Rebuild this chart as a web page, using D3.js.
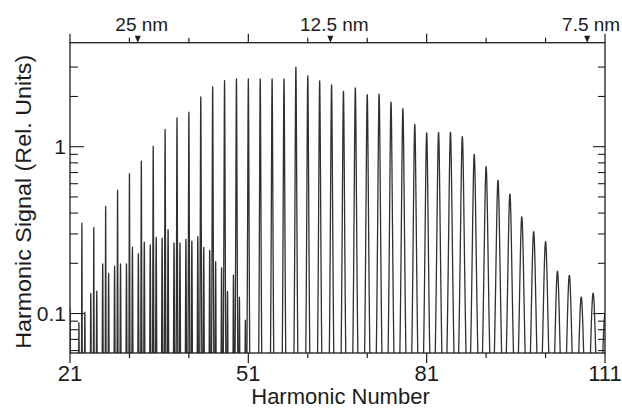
<!DOCTYPE html>
<html>
<head>
<meta charset="utf-8">
<script src="https://cdn.jsdelivr.net/npm/d3@7"></script>
<style>
  body { margin: 0; background: #fff; }
  svg text { font-family: "Liberation Sans", Arial, Helvetica, sans-serif; fill: #1c1c1c; }
</style>
</head>
<body>
<div id="chart"></div>
<script>
'use strict'

////////////////////////////////////
/////////////// data ///////////////
////////////////////////////////////

// first order: odd harmonics and their peak signal (rel. units)
const harmonics = [21, 23, 25, 27, 29, 31, 33, 35, 37, 39, 41, 43, 45, 47, 49,
    51, 53, 55, 57, 59, 61, 63, 65, 67, 69, 71, 73, 75, 77, 79,
    81, 83, 85, 87, 89, 91, 93, 95, 97, 99, 101, 103, 105, 107, 109, 111]
const peakSignal = [0.10, 0.34, 0.32, 0.43, 0.54, 0.68, 0.81, 1.0, 1.26, 1.48, 1.6, 1.98, 2.27, 2.48, 2.54,
    2.54, 2.54, 2.54, 2.54, 2.99, 2.65, 2.47, 2.34, 2.14, 2.24, 2.04, 2.06, 1.84, 1.68, 1.35,
    1.2, 1.21, 1.21, 1.14, 0.89, 0.75, 0.62, 0.51, 0.37, 0.30, 0.26, 0.17, 0.16, 0.116, 0.123, 0.09]

// second diffraction order of harmonics 45..101, seen at half their number
const secondOrderPos = [22.5, 23.5, 24.5, 25.5, 26.5, 27.5, 28.5, 29.5, 30.5, 31.5, 32.5, 33.5,
    34.5, 35.5, 36.5, 37.5, 38.5, 39.5, 40.5, 41.5, 42.5, 43.5, 44.5, 45.5, 46.5, 47.5,
    48.5, 49.5, 50.5]
const secondOrderSignal = [0.08, 0.094, 0.124, 0.128, 0.19, 0.166, 0.184, 0.19, 0.19, 0.242, 0.22, 0.26,
    0.25, 0.278, 0.275, 0.31, 0.257, 0.257, 0.27, 0.263, 0.28, 0.24, 0.23, 0.195, 0.178, 0.126,
    0.16, 0.115, 0.08]

// axes
const xDomain = [21, 111]
const xMajor = [21, 51, 81, 111]
const xMinor = [31, 41, 61, 71, 91, 101]
const yDomain = [0.058, 4.2]
const yMajor = [0.1, 1]
const yMajorLabels = ['0.1', '1']
const yMinor = [0.06, 0.07, 0.08, 0.09, 0.2, 0.3, 0.4, 0.5, 0.6, 0.7, 0.8, 0.9, 2, 3]

// top axis: wavelength of the n-th harmonic of the drive laser
const laserNm = 810
const wavelengths = [25, 12.5, 7.5]
const wavelengthLabels = ['25 nm', '12.5 nm', '7.5 nm']

////////////////////////////////////
//////////// svg setup /////////////
////////////////////////////////////

const svgWidth = 622, svgHeight = 409
const margin = { left: 70, right: 17, top: 42.7, bottom: 56 }
const width = svgWidth - margin.left - margin.right
const height = svgHeight - margin.top - margin.bottom

const svg = d3.select('#chart')
    .append('svg')
    .attr('width', svgWidth)
    .attr('height', svgHeight)
    .append('g')
    .attr('transform', `translate(${margin.left},${margin.top})`)

const x = d3.scaleLinear().domain(xDomain).range([0, width])
const y = d3.scaleLog().domain(yDomain).range([height, 0])

svg.append('clipPath').attr('id', 'plot-clip')
    .append('rect').attr('width', width).attr('height', height)

////////////////////////////////////
///////////// spectrum /////////////
////////////////////////////////////

// lines get wider towards high harmonics (spectrometer resolution)
const lineWidth = p => 0.04 + 0.09 * Math.pow(p / 60, 3)

var lines = harmonics.map((h, i) => ({ pos: h, amp: peakSignal[i], w: lineWidth(h) }))
    .concat(secondOrderPos.map((p, i) => ({ pos: p, amp: secondOrderSignal[i], w: 0.08 })))

function signal(h) {
    var s = 0.008
    lines.forEach(l => {
        var d = (h - l.pos) / l.w, q = 1 + d * d
        s += l.amp / (q * q)
    })
    return s
}

var samples = d3.range(xDomain[0], xDomain[1] + 0.001, 0.01)
    .concat(lines.map(l => l.pos))
    .sort((a, b) => a - b)

const spectrum = samples.map(h => ({ h: h, v: signal(h) }))

svg.append('path')
    .datum(spectrum)
    .attr('clip-path', 'url(#plot-clip)')
    .attr('fill', 'none')
    .attr('stroke', '#303030')
    .attr('stroke-width', 1.3)
    .attr('stroke-linejoin', 'round')
    .attr('d', d3.line().x(d => x(d.h)).y(d => y(Math.max(d.v, 0.03))))

////////////////////////////////////
/////////////// axes ///////////////
////////////////////////////////////

const ink = '#1c1c1c'

// frame
svg.append('rect')
    .attr('width', width).attr('height', height)
    .attr('fill', 'none').attr('stroke', ink).attr('stroke-width', 1.3)

function vTicks(vals, y0, len) {
    svg.selectAll(null).data(vals).join('line')
        .attr('x1', d => x(d)).attr('x2', d => x(d))
        .attr('y1', y0).attr('y2', y0 + len)
        .attr('stroke', ink).attr('stroke-width', 1.2)
}
function hTicks(vals, x0, len) {
    svg.selectAll(null).data(vals).join('line')
        .attr('y1', d => y(d)).attr('y2', d => y(d))
        .attr('x1', x0).attr('x2', x0 + len)
        .attr('stroke', ink).attr('stroke-width', 1.1)
}

// bottom and top ticks point outward
vTicks(xMajor, height, 10)
vTicks(xMinor, height, 5)
vTicks(xMajor, 0, -9)
vTicks(xMinor, 0, -5)

// left and right ticks point inward
hTicks(yMajor, 0, 14)
hTicks(yMinor, 0, 8)
hTicks(yMajor, width, -12)
hTicks(yMinor, width, -7)

svg.selectAll('.xlab').data(xMajor).join('text')
    .attr('class', 'xlab')
    .attr('x', d => x(d)).attr('y', height + 28.5)
    .attr('text-anchor', 'middle')
    .style('font-size', '22px')
    .text(d => d)

svg.selectAll('.ylab').data(yMajor).join('text')
    .attr('class', 'ylab')
    .attr('x', -4).attr('y', d => y(d))
    .attr('dy', '0.36em')
    .attr('text-anchor', 'end')
    .style('font-size', '21px')
    .text((d, i) => yMajorLabels[i])

// wavelength markers on top
const marks = wavelengths.map((w, i) => ({ h: laserNm / w, label: wavelengthLabels[i] }))

svg.selectAll('.tri').data(marks).join('path')
    .attr('class', 'tri')
    .attr('d', d => `M${x(d.h) - 3},${-7} L${x(d.h) + 3},${-7} L${x(d.h)},0 Z`)
    .attr('fill', ink)

svg.selectAll('.toplab').data(marks).join('text')
    .attr('class', 'toplab')
    .attr('x', d => x(d.h) + 4).attr('y', -12)
    .attr('text-anchor', 'middle')
    .style('font-size', '19px')
    .text(d => d.label)

// axis titles
svg.append('text')
    .attr('x', width / 2 + 3).attr('y', height + 51)
    .attr('text-anchor', 'middle')
    .style('font-size', '22px')
    .text('Harmonic Number')

// the scan is a little taller than wide, so stretch the vertical title along its length
svg.append('text')
    .attr('transform', `translate(${-39},${height / 2 + 4}) rotate(-90) scale(1.06,1)`)
    .attr('text-anchor', 'middle')
    .style('font-size', '22px')
    .text('Harmonic Signal (Rel. Units)')

</script>
</body>
</html>
